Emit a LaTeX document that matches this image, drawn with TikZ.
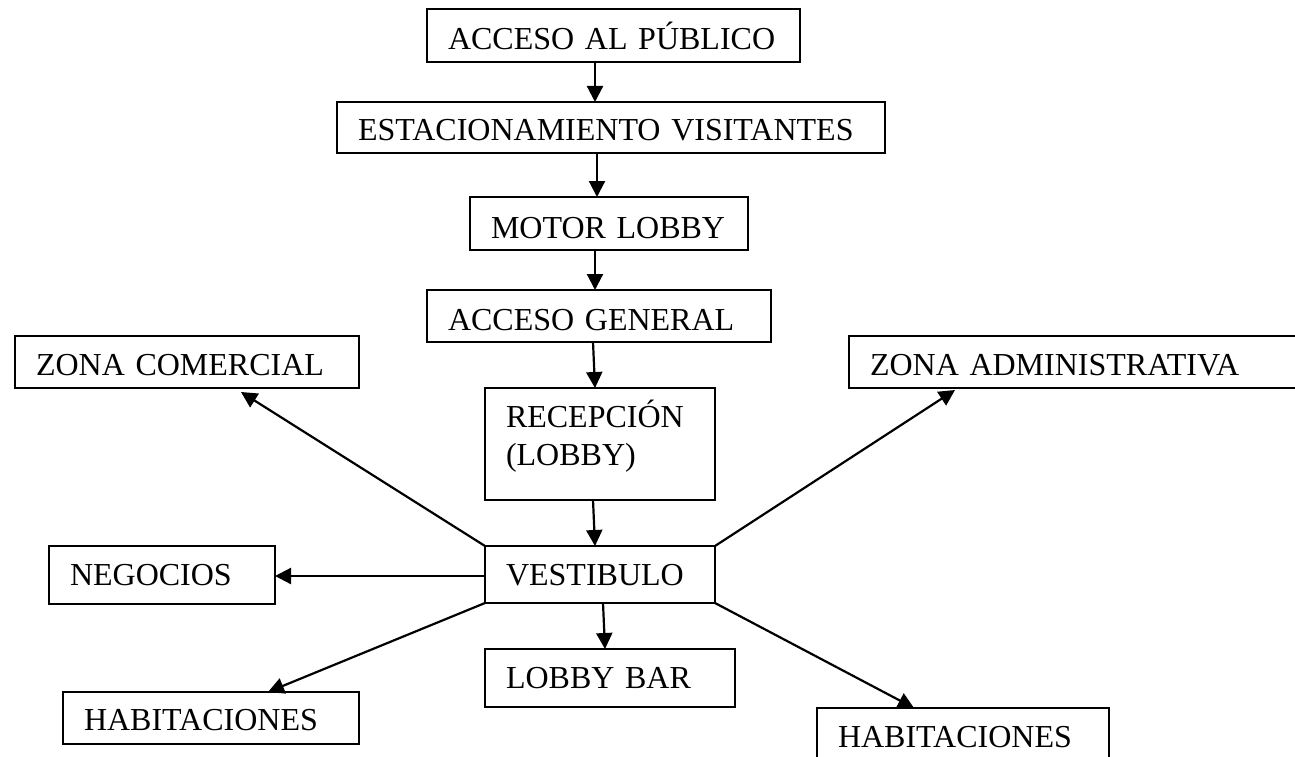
\documentclass[tikz,border=0pt]{standalone}
\usepackage{fontspec}
\setmainfont{Liberation Serif}
\usetikzlibrary{arrows.meta,calc}
\begin{document}
\begin{tikzpicture}[x=1pt,y=-1pt,
  box/.style={draw, line width=1.6pt, anchor=north west, inner xsep=21pt, inner ysep=0pt,
    outer sep=0pt, align=left, font=\fontsize{32}{38}\selectfont},
  arr/.style={line width=2.2pt, -{Triangle[length=16pt,width=16pt]}}]
\useasboundingbox (0,0) rectangle (1295,757);
% boxes
\node[box, text width=331pt, text height=41pt, text depth=12pt] (pub) at (427,9) {ACCESO AL PÚBLICO};
\node[box, text width=506pt, text height=38pt, text depth=13pt] (est) at (337,102) {ESTACIONAMIENTO VISITANTES};
\node[box, text width=236pt, text height=41pt, text depth=12pt] (mot) at (470,197) {MOTOR LOBBY};
\node[box, text width=302pt, text height=40pt, text depth=12pt] (gen) at (427,290) {ACCESO GENERAL};
\node[box, text width=188pt, text height=39pt, text depth=73pt] (rec) at (485,388) {RECEPCIÓN\\(LOBBY)};
\node[box, text width=188pt, text height=39pt, text depth=18pt] (ves) at (485,546) {VESTIBULO};
\node[box, text width=208pt, text height=39pt, text depth=19pt] (bar) at (485,649) {LOBBY BAR};
\node[box, text width=302pt, text height=39pt, text depth=13pt] (com) at (15,336) {ZONA COMERCIAL};
\node[box, text width=418pt, text height=39pt, text depth=13pt] (adm) at (849,336) {ZONA ADMINISTRATIVA};
\node[box, text width=184pt, text height=39pt, text depth=19pt] (neg) at (49,546) {NEGOCIOS};
\node[box, text width=254pt, text height=38pt, text depth=14pt] (habl) at (63,692) {HABITACIONES};
\node[box, text width=250pt, text height=39pt, text depth=21pt] (habr) at (817,708) {HABITACIONES};
% connectors
\draw[arr] ($(pub.south west)+(168,0)$) -- ($(est.north west)+(258,0)$);
\draw[arr] ($(est.south west)+(260,0)$) -- ($(mot.north west)+(127,0)$);
\draw[arr] ($(mot.south west)+(125,0)$) -- ($(gen.north west)+(168,0)$);
\draw[arr] ($(gen.south west)+(166,0)$) -- ($(rec.north west)+(110,0)$);
\draw[arr] ($(rec.south west)+(108,0)$) -- ($(ves.north west)+(110,0)$);
\draw[arr] ($(ves.south west)+(118,0)$) -- ($(bar.north west)+(120,0)$);
\draw[arr] (ves.north west) -- ($(com.south west)+(226,4)$);
\draw[arr] ($(ves.south west)+(0,-27)$) -- ($(neg.south east)+(0,-28)$);
\draw[arr] (ves.south west) -- ($(habl.north west)+(205,0)$);
\draw[arr] (ves.north east) -- ($(adm.south west)+(106,2)$);
\draw[arr] (ves.south east) -- ($(habr.north west)+(97,0)$);
\end{tikzpicture}
\end{document}
